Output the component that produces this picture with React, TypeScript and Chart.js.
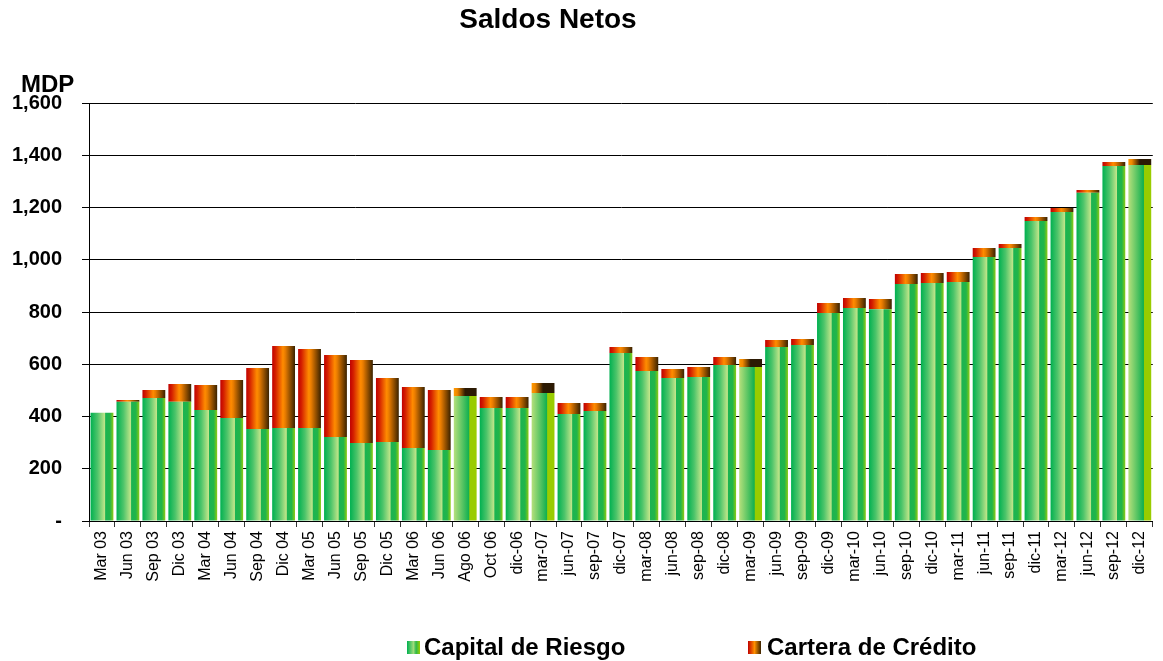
import React, { useEffect, useRef } from "react";
import { Chart, registerables } from "chart.js";

Chart.register(...registerables);

const categories = [
  "Mar 03", "Jun 03", "Sep 03", "Dic 03", "Mar 04", "Jun 04", "Sep 04", "Dic 04",
  "Mar 05", "Jun 05", "Sep 05", "Dic 05", "Mar 06", "Jun 06", "Ago 06", "Oct 06",
  "dic-06", "mar-07", "jun-07", "sep-07", "dic-07", "mar-08", "jun-08", "sep-08",
  "dic-08", "mar-09", "jun-09", "sep-09", "dic-09", "mar-10", "jun-10", "sep-10",
  "dic-10", "mar-11", "jun-11", "sep-11", "dic-11", "mar-12", "jun-12", "sep-12",
  "dic-12",
];

const capitalRiesgo = [
  414, 456, 471, 456, 425, 394, 352, 356, 356, 322, 299, 302, 279, 272, 478, 433,
  433, 490, 410, 421, 643, 574, 547, 551, 597, 589, 666, 674, 796, 815, 811, 907,
  911, 915, 1011, 1045, 1148, 1183, 1256, 1359, 1363,
];

const carteraCredito = [
  0, 7, 30, 68, 96, 146, 234, 314, 302, 313, 317, 245, 234, 229, 31, 42,
  42, 38, 42, 31, 23, 54, 35, 38, 31, 31, 27, 23, 38, 39, 39, 38,
  38, 38, 34, 15, 16, 15, 11, 15, 23,
];

const seriesNames = ["Capital de Riesgo", "Cartera de Crédito"];
const yTickValues = [0, 200, 400, 600, 800, 1000, 1200, 1400, 1600];

// categories whose bars use the alternate (shifted) gradient fill
const altFillCategories = ["Ago 06", "mar-07", "mar-09", "dic-12"];

const BAR_PCT = 0.88;
const FONT = '"Liberation Sans", Arial, Helvetica, sans-serif';

type Stop = [number, string];
const greenStops: Stop[] = [
  [0, "#00b050"], [0.3, "#4cc46a"], [0.62, "#bfe589"], [0.66, "#1bb352"],
  [0.85, "#22b548"], [1, "#8dcb12"],
];
const greenAltStops: Stop[] = [
  [0, "#b6e07c"], [0.66, "#12b050"], [0.7, "#99cc00"], [1, "#99cc00"],
];
const redStops: Stop[] = [
  [0, "#c00000"], [0.15, "#d42000"], [0.47, "#ff8c00"], [0.57, "#e97c00"], [1, "#3a2200"],
];
const redAltStops: Stop[] = [
  [0, "#ff9900"], [0.15, "#f08800"], [0.5, "#2c1a04"], [1, "#2c1a04"],
];

function makeGrad(c: CanvasRenderingContext2D, x0: number, x1: number, stops: Stop[]) {
  const g = c.createLinearGradient(x0, 0, x1, 0);
  stops.forEach(([o, col]) => g.addColorStop(o, col));
  return g;
}

function barFill(normal: Stop[], alt: Stop[], fallback: string) {
  return (ctx: any) => {
    const chart = ctx.chart;
    const xs = chart.scales && chart.scales.x;
    if (!xs || ctx.dataIndex === undefined || !xs.width) return fallback;
    const cx = xs.getPixelForValue(ctx.dataIndex);
    const w = (xs.width / categories.length) * BAR_PCT;
    const isAlt = altFillCategories.includes(categories[ctx.dataIndex]);
    return makeGrad(chart.ctx, cx - w / 2, cx + w / 2, isAlt ? alt : normal);
  };
}

const decorPlugin = {
  id: "decor",
  afterDraw(chart: any) {
    const c: CanvasRenderingContext2D = chart.ctx;
    c.save();
    c.fillStyle = "#000";
    c.textBaseline = "alphabetic";
    // title
    c.font = `bold 28px ${FONT}`;
    c.textAlign = "center";
    c.fillText("Saldos Netos", 548, 28);
    // unit label
    c.font = `bold 24px ${FONT}`;
    c.textAlign = "left";
    c.fillText("MDP", 21, 92);
    // legend
    const items = [
      { box: 407, text: 424, stops: [[0, "#00b050"], [0.5, "#9fdc7a"], [0.7, "#2fb84a"], [1, "#99cc00"]] as Stop[] },
      { box: 748, text: 767, stops: [[0, "#c00000"], [0.5, "#ff9000"], [1, "#3a2200"]] as Stop[] },
    ];
    items.forEach((it, i) => {
      c.fillStyle = makeGrad(c, it.box, it.box + 13, it.stops);
      c.fillRect(it.box, 641, 13, 13);
      c.fillStyle = "#000";
      c.font = `bold 24px ${FONT}`;
      c.fillText(seriesNames[i], it.text, 655);
    });
    c.restore();
  },
};

export default function App() {
  const ref = useRef<HTMLCanvasElement | null>(null);

  useEffect(() => {
    if (!ref.current) return;
    const chart = new Chart(ref.current, {
      type: "bar",
      data: {
        labels: categories,
        datasets: [
          {
            label: seriesNames[0],
            data: capitalRiesgo,
            backgroundColor: barFill(greenStops, greenAltStops, "#22b548"),
            borderWidth: 0,
            barPercentage: BAR_PCT,
            categoryPercentage: 1,
          },
          {
            label: seriesNames[1],
            data: carteraCredito,
            backgroundColor: barFill(redStops, redAltStops, "#e05000"),
            borderWidth: 0,
            barPercentage: BAR_PCT,
            categoryPercentage: 1,
          },
        ],
      },
      options: {
        responsive: false,
        animation: false,
        layout: { padding: { top: 103, bottom: 60, left: 0, right: 0 } },
        plugins: {
          legend: { display: false },
          title: { display: false },
          tooltip: { enabled: false },
        },
        scales: {
          x: {
            stacked: true,
            offset: true,
            afterFit: (s: any) => { s.height = 80; },
            grid: {
              display: true,
              drawOnChartArea: false,
              drawTicks: true,
              tickLength: 6,
              offset: true,
              color: "#333",
            },
            border: { display: true, color: "#000", width: 1 },
            ticks: {
              autoSkip: false,
              maxRotation: 90,
              minRotation: 90,
              padding: 4,
              color: "#000",
              font: { family: FONT, size: 16 },
            },
          },
          y: {
            stacked: true,
            min: 0,
            max: 1600,
            afterFit: (s: any) => { s.width = 89; },
            afterBuildTicks: (s: any) => {
              s.ticks = yTickValues.map((v) => ({ value: v }));
            },
            grid: {
              color: "#000",
              lineWidth: 1,
              drawTicks: true,
              tickLength: 7,
            },
            border: { display: true, color: "#000", width: 1 },
            ticks: {
              padding: 20,
              color: "#000",
              font: { family: FONT, size: 20, weight: "bold" },
              callback: (v: any) => (Number(v) === 0 ? "-" : Number(v).toLocaleString("en-US")),
            },
          },
        },
      },
      plugins: [decorPlugin],
    });
    return () => chart.destroy();
  }, []);

  return (
    <div style={{ position: "absolute", left: 0, top: 0, width: 1163, height: 661, background: "#fff" }}>
      <canvas ref={ref} width={1163} height={661} style={{ display: "block" }} />
    </div>
  );
}
